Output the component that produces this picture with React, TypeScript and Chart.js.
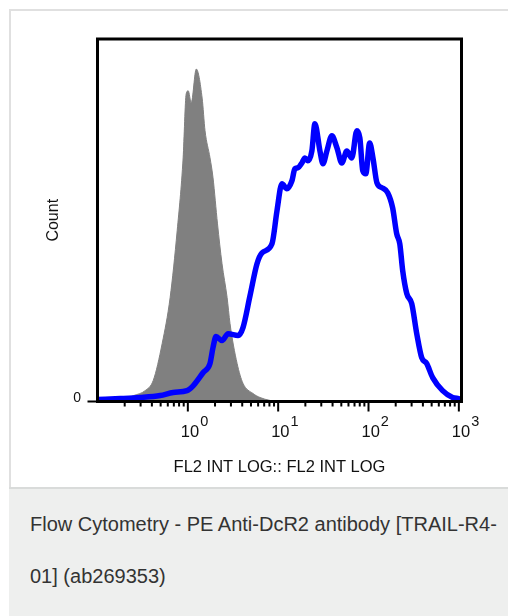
import React, { useEffect, useRef } from 'react';
import { Chart, registerables } from 'chart.js';

Chart.register(...registerables);

const FONT = "'Liberation Sans', Arial, sans-serif";

// Isotype control (grey filled histogram)
const controlIntensity = [0.15, 0.18, 0.249, 0.337, 0.414, 0.52, 0.637, 0.762, 0.887, 0.958, 1.01, 1.09, 1.24, 1.44, 1.55, 1.76, 1.9, 2.13, 2.39, 2.72, 2.93, 3.51, 4.08, 5.27, 6.3, 8.1, 10];
const controlCount = [0, 0.3, 1.6, 3.0, 5.8, 16.0, 28.7, 47.1, 67.2, 84.8, 85.7, 82.4, 91.7, 83.7, 74.7, 67.2, 61.7, 49.0, 38.0, 28.7, 21.5, 10.5, 5.0, 2.2, 1.1, 0.3, 0];

// Stained sample (blue line)
const stainedIntensity = [0.1, 0.179, 0.297, 0.494, 0.688, 0.98, 1.15, 1.48, 1.76, 1.9, 2.05, 2.39, 2.79, 3.6, 4.08, 4.88, 5.83, 6.62, 8.54, 9.7, 11.0, 12.5, 14.2, 15.3, 16.6, 18.3, 19.8, 21.3, 23.6, 25.5, 29.0, 31.3, 34.6, 39.3, 44.7, 50.7, 57.5, 65.3, 74.3, 80.2, 86.5, 93.3, 103, 112, 124, 140, 163, 185, 205, 222, 239, 265, 301, 342, 388, 440, 513, 661, 853, 1000];
const stainedCount = [0.55, 0.8, 1.1, 1.65, 2.5, 3.0, 4.4, 8.0, 10.5, 14.9, 17.9, 16.8, 18.7, 18.2, 20.4, 29.2, 38.0, 41.0, 43.5, 52.6, 60.1, 58.7, 60.9, 64.2, 64.5, 65.8, 67.2, 66.4, 69.1, 76.6, 69.1, 65.6, 69.1, 73.3, 70.0, 65.8, 69.1, 67.2, 74.7, 72.7, 63.6, 62.8, 71.3, 67.2, 60.3, 59.0, 57.6, 53.4, 46.3, 43.5, 36.1, 29.8, 27.0, 18.7, 12.1, 10.5, 6.6, 3.0, 1.1, 0.8];

// Axes
const xMin = 0.1;
const xMax = 1070;
const yMin = 0;
const yMax = 100;
const majorTickValues = [1, 10, 100, 1000];
const majorTickBase = '10';
const majorTickExponents = ['0', '1', '2', '3'];
const minorDecades = [0.1, 1, 10, 100];
const minorMultipliers = [2, 3, 4, 5, 6, 7, 8, 9];
const yTickValues = [0];
const yTickLabels = ['0'];
const xTitle = 'FL2 INT LOG:: FL2 INT LOG';
const yTitle = 'Count';
const captionLine1 = 'Flow Cytometry - PE Anti-DcR2 antibody [TRAIL-R4-';
const captionLine2 = '01] (ab269353)';

const axesPlugin = {
  id: 'flowAxes',
  afterDraw(chart: any) {
    const ctx = chart.ctx as CanvasRenderingContext2D;
    const xs = chart.scales.x;
    const ys = chart.scales.y;
    const { left, right, top, bottom } = chart.chartArea;
    ctx.save();
    ctx.strokeStyle = '#000';
    ctx.lineWidth = 3;
    ctx.strokeRect(left, top, right - left, bottom - top);

    ctx.lineWidth = 2;
    ctx.beginPath();
    yTickValues.forEach((v) => {
      const py = ys.getPixelForValue(v);
      ctx.moveTo(left - 10, py);
      ctx.lineTo(left, py);
    });
    majorTickValues.forEach((v) => {
      const px = xs.getPixelForValue(v);
      ctx.moveTo(px, bottom);
      ctx.lineTo(px, bottom + 10);
    });
    minorDecades.forEach((d) => {
      minorMultipliers.forEach((m) => {
        const v = d * m;
        if (v < xMin || v > xMax) return;
        const px = xs.getPixelForValue(v);
        ctx.moveTo(px, bottom);
        ctx.lineTo(px, bottom + 5);
      });
    });
    ctx.stroke();

    ctx.fillStyle = '#111';
    ctx.textBaseline = 'alphabetic';
    ctx.font = `14px ${FONT}`;
    ctx.textAlign = 'right';
    yTickValues.forEach((v, i) => {
      ctx.fillText(yTickLabels[i], left - 16.5, ys.getPixelForValue(v));
    });

    ctx.textAlign = 'left';
    majorTickValues.forEach((v, i) => {
      const px = xs.getPixelForValue(v);
      const x0 = px - 7;
      ctx.font = `16.5px ${FONT}`;
      ctx.fillText(majorTickBase, x0, bottom + 35.5);
      const w = ctx.measureText(majorTickBase).width;
      ctx.font = `14.5px ${FONT}`;
      ctx.fillText(majorTickExponents[i], x0 + w + 1, bottom + 24);
    });

    ctx.font = `16.5px ${FONT}`;
    ctx.textAlign = 'center';
    ctx.fillText(xTitle, (left + right) / 2, bottom + 70.5);

    ctx.translate(58, (top + bottom) / 2);
    ctx.rotate(-Math.PI / 2);
    ctx.font = `16px ${FONT}`;
    ctx.textAlign = 'center';
    ctx.fillText(yTitle, 0, 0);
    ctx.restore();
  },
};

export default function App() {
  const canvasRef = useRef<HTMLCanvasElement | null>(null);

  useEffect(() => {
    const canvas = canvasRef.current;
    if (!canvas) return;
    const chart = new Chart(canvas, {
      type: 'line',
      data: {
        datasets: [
          {
            label: 'Stained',
            data: stainedIntensity.map((x, i) => ({ x, y: stainedCount[i] })),
            borderColor: '#0000ff',
            borderWidth: 5.5,
            fill: false,
            pointRadius: 0,
            cubicInterpolationMode: 'monotone',
            borderJoinStyle: 'round',
            borderCapStyle: 'round',
            order: 1,
          },
          {
            label: 'Control',
            data: controlIntensity.map((x, i) => ({ x, y: controlCount[i] })),
            borderColor: '#808080',
            backgroundColor: '#808080',
            borderWidth: 1,
            fill: 'origin',
            pointRadius: 0,
            cubicInterpolationMode: 'monotone',
            order: 2,
          },
        ],
      },
      options: {
        animation: false,
        responsive: false,
        devicePixelRatio: 1,
        layout: { padding: { left: 97.5, top: 39, right: 508 - 461.5, bottom: 487 - 401.5 } },
        plugins: { legend: { display: false }, tooltip: { enabled: false } },
        events: [],
        scales: {
          x: { type: 'logarithmic', min: xMin, max: xMax, display: false },
          y: { type: 'linear', min: yMin, max: yMax, display: false },
        },
      },
      plugins: [axesPlugin],
    } as any);
    return () => chart.destroy();
  }, []);

  return (
    <div style={{ position: 'fixed', left: 0, top: 0, width: 508, height: 616, overflow: 'hidden', background: '#fff', fontFamily: FONT }}>
      <div style={{ position: 'absolute', left: 9, top: 9, width: 600, height: 478, boxSizing: 'border-box', borderTop: '2px solid #e0e0e0', borderLeft: '2px solid #e0e0e0', background: '#fff' }} />
      <div style={{ position: 'absolute', left: 9, top: 487, width: 600, height: 200, boxSizing: 'border-box', borderTop: '2px solid #d9dbda', background: '#eeefee' }} />
      <div style={{ position: 'absolute', left: 30, top: 498, lineHeight: '52px', fontSize: 20, color: '#333', whiteSpace: 'nowrap' }}>
        {captionLine1}
        <br />
        {captionLine2}
      </div>
      <canvas ref={canvasRef} width={508} height={487} style={{ position: 'absolute', left: 0, top: 0, width: 508, height: 487 }} />
    </div>
  );
}
